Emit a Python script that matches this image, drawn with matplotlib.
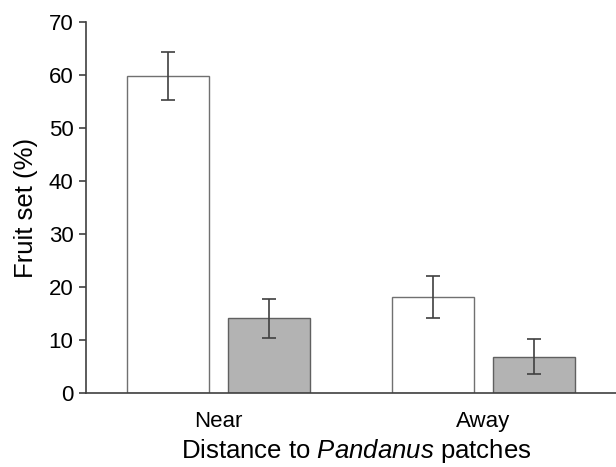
import numpy as np
import matplotlib
matplotlib.use('Agg')
import matplotlib.pyplot as plt

# 数据
groups = ['Near', 'Away']
white_vals = [59.8, 18.1]
white_err = [4.5, 3.9]
grey_vals = [14.1, 6.85]
grey_err = [3.7, 3.3]

plt.rcParams['font.family'] = ['Liberation Sans', 'DejaVu Sans']
plt.rcParams['mathtext.fontset'] = 'custom'
plt.rcParams['mathtext.it'] = 'Liberation Sans:italic'
plt.rcParams['mathtext.rm'] = 'Liberation Sans'

fig = plt.figure(figsize=(6.16, 4.67), dpi=100)
ax = fig.add_axes([0.1396, 0.1585, 0.8604, 0.7944])

x = np.arange(len(groups))
w = 0.31
off = 0.19
err_kw = dict(ecolor='#404040', elinewidth=1.2, capsize=5, capthick=1.2)

ax.bar(x - off, white_vals, w, yerr=white_err, color='white',
       edgecolor='#707070', linewidth=1.0, error_kw=err_kw)
ax.bar(x + off, grey_vals, w, yerr=grey_err, color='#b3b3b3',
       edgecolor='#606060', linewidth=1.0, error_kw=err_kw)

ax.set_xlim(-0.5, 1.5)
ax.set_ylim(0, 70)
ax.set_yticks(range(0, 71, 10))
ax.set_xticks(x)
ax.set_xticklabels(groups)
ax.tick_params(axis='x', length=0, pad=13, labelsize=16)
ax.tick_params(axis='y', length=5, width=1.2, color='#404040', pad=4, labelsize=16)

for s in ['top', 'right']:
    ax.spines[s].set_visible(False)
for s in ['left', 'bottom']:
    ax.spines[s].set_color('#404040')
    ax.spines[s].set_linewidth(1.2)

ax.set_ylabel('Fruit set (%)', fontsize=18.5, labelpad=8)
ax.set_xlabel('Distance to $\\it{Pandanus}$ patches', fontsize=18.5)
ax.xaxis.set_label_coords(0.51, -0.12)

fig.savefig('out.png', dpi=100)
